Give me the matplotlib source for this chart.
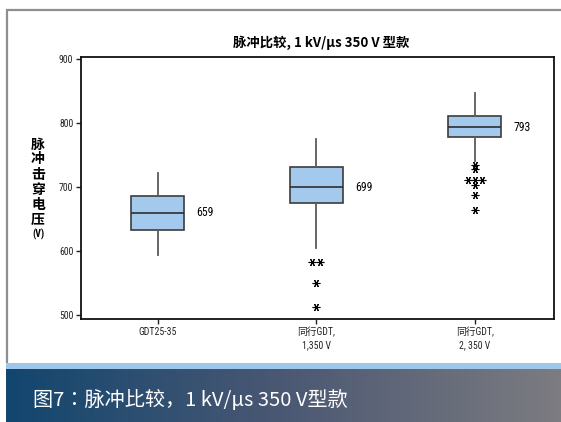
import matplotlib
matplotlib.use("Agg")
import matplotlib.pyplot as plt
import numpy as np
from matplotlib import font_manager
from matplotlib.colors import LinearSegmentedColormap

# box statistics per product (V)
groups = ["GDT25-35", "同行GDT,\n1,350 V", "同行GDT,\n2, 350 V"]
medians = [659, 699, 793]
q1 = [633, 674, 778]
q3 = [685, 730, 810]
whisker_lo = [594, 604, 740]
whisker_hi = [721, 774, 847]
outliers = [
    [],
    [582, 582, 550, 512],
    [734, 727, 710, 710, 710, 703, 687, 663],
]
yticks = [500, 600, 700, 800, 900]

title = "脉冲比较, 1 kV/μs 350 V 型款"
ylabel = "脉冲击穿电压"
caption = "图7：脉冲比较，1 kV/μs 350 V型款"

W, H = 561, 422


def pick(*names):
    have = {f.name for f in font_manager.fontManager.ttflist}
    return [n for n in names if n in have] + ["Noto Sans CJK SC", "DejaVu Sans"]


narrow = pick("Liberation Sans Narrow", "Roboto Condensed", "Open Sans Condensed")
cjk = ["Noto Sans CJK SC", "DejaVu Sans"]

fig = plt.figure(figsize=(W / 100, H / 100), dpi=100)

# page furniture drawn in pixel coordinates
bg = fig.add_axes([0, 0, 1, 1], zorder=0)
bg.set_xlim(0, W)
bg.set_ylim(H, 0)
bg.axis("off")
frame_col = "#8e8e8e"
bg.plot([6.7, 6.7], [10, 363], color=frame_col, lw=1.6, solid_capstyle="butt")
bg.plot([6, W], [10, 10], color=frame_col, lw=1.6, solid_capstyle="butt")
bg.add_patch(plt.Rectangle((6, 362.7), W - 6, 6.8, color="#9fc7ea", lw=0))
grad = LinearSegmentedColormap.from_list("banner", ["#12466f", "#4b5873", "#7c7c81"])
bg.imshow(np.linspace(0, 1, 256)[None, :], cmap=grad, aspect="auto",
          extent=(6, W, H, 369.4), zorder=1)
# centred full-width punctuation in the caption
bg.text(33, 400, caption, color="white", fontsize=14.5,
        family=["Noto Sans CJK JP", "DejaVu Sans"],
        ha="left", va="center", zorder=2)

bg.text(321, 42.5, title, fontsize=9.6, fontweight="bold", family=cjk,
        ha="center", va="center")
# vertical label, one character per row
for i, ch in enumerate(ylabel):
    bg.text(38, 144.5 + 15 * i, ch, fontsize=10, fontweight="bold", family=cjk,
            ha="center", va="center")
bg.text(38, 234, "(V)", fontsize=7, fontweight="bold", family=narrow,
        ha="center", va="center")

# box plot
ax = fig.add_axes([81 / W, 1 - 319 / H, (554 - 81) / W, (319 - 56.7) / H], zorder=3)
ax.patch.set_alpha(0)
positions = np.arange(1, len(groups) + 1)
stats = [
    dict(med=m, q1=a, q3=b, whislo=lo, whishi=hi, fliers=[])
    for m, a, b, lo, hi in zip(medians, q1, q3, whisker_lo, whisker_hi)
]
box_w = 0.336
ax.bxp(stats, positions=positions, widths=box_w, patch_artist=True,
       showcaps=False, showfliers=False,
       boxprops=dict(facecolor="#a3c9ec", edgecolor="#3c3c3c", linewidth=1.2),
       medianprops=dict(color="#2e2e2e", linewidth=1.2),
       whiskerprops=dict(color="#5a5a5a", linewidth=1.3))

# outliers: repeated values are spread sideways
for pos, vals in zip(positions, outliers):
    vals = np.asarray(vals, dtype=float)
    xs = np.full(len(vals), float(pos))
    for v in np.unique(vals):
        idx = np.where(vals == v)[0]
        if len(idx) > 1:
            step = 0.045 if len(idx) > 2 else 0.052
            xs[idx] = pos + (np.arange(len(idx)) - (len(idx) - 1) / 2) * step
    ax.plot(xs, vals, linestyle="none", marker=(6, 2, 90), markersize=5.5,
            markeredgewidth=0.8, color="black")

for pos, m in zip(positions, medians):
    ax.text(pos + box_w / 2 + 0.075, m, str(m), fontsize=8.5, family=narrow,
            ha="left", va="center")

ax.set_xlim(0.515, 3.5)
ax.set_ylim(493.3, 903.1)
ax.set_xticks(positions)
ax.set_xticklabels(groups, fontsize=7, family=narrow, linespacing=1.45)
ax.set_yticks(yticks)
ax.set_yticklabels([str(t) for t in yticks], fontsize=7, family=narrow)
ax.tick_params(direction="out", length=3.5, width=1.0, pad=2, colors="#222222")
for s in ax.spines.values():
    s.set_linewidth(1.3)
    s.set_color("#111111")

fig.savefig("out.png", dpi=100)
